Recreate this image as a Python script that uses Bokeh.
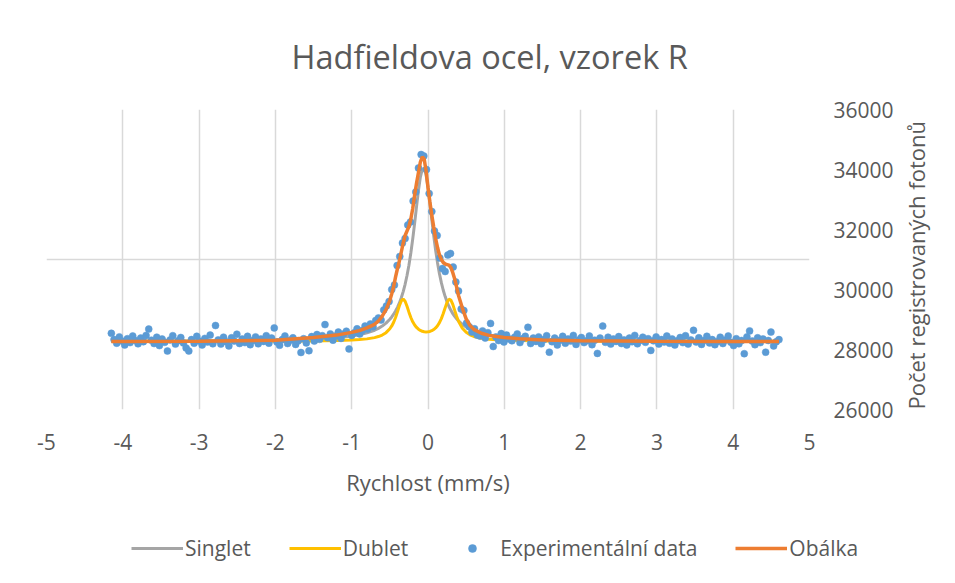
import math
from bokeh.plotting import figure
from bokeh.layouts import column
from bokeh.models import Range1d, FixedTicker, Legend, LegendItem
from bokeh.embed import file_html
from bokeh.resources import INLINE

# ---------------- data ----------------
title_text = "Hadfieldova ocel, vzorek R"
x_title = "Rychlost (mm/s)"
y_title = "Počet registrovaných fotonů"

x_ticks = [-5, -4, -3, -2, -1, 0, 1, 2, 3, 4, 5]
x_tick_labels = ["-5", "-4", "-3", "-2", "-1", "0", "1", "2", "3", "4", "5"]
y_ticks = [26000, 28000, 30000, 32000, 34000, 36000]
y_tick_labels = ["26000", "28000", "30000", "32000", "34000", "36000"]
y_grid_values = [26000, 31000, 36000]

series_names = ["Singlet", "Dublet", "Experimentální data", "Obálka"]

# experimental data: velocity (mm/s)
exp_x = [
    -4.150, -4.115, -4.080, -4.045, -4.010, -3.975, -3.940, -3.905, -3.870, -3.835,
    -3.800, -3.765, -3.730, -3.695, -3.660, -3.625, -3.590, -3.555, -3.520, -3.485,
    -3.450, -3.415, -3.380, -3.345, -3.310, -3.275, -3.240, -3.205, -3.170, -3.135,
    -3.100, -3.065, -3.030, -2.995, -2.960, -2.925, -2.890, -2.855, -2.820, -2.785,
    -2.750, -2.715, -2.680, -2.645, -2.610, -2.575, -2.540, -2.505, -2.470, -2.435,
    -2.400, -2.365, -2.330, -2.295, -2.260, -2.225, -2.190, -2.155, -2.120, -2.085,
    -2.050, -2.015, -1.980, -1.945, -1.910, -1.875, -1.840, -1.805, -1.770, -1.735,
    -1.700, -1.665, -1.630, -1.595, -1.560, -1.525, -1.490, -1.455, -1.420, -1.385,
    -1.350, -1.315, -1.280, -1.245, -1.210, -1.175, -1.140, -1.105, -1.070, -1.035,
    -1.000, -0.965, -0.930, -0.895, -0.860, -0.825, -0.790, -0.755, -0.720, -0.685,
    -0.650, -0.615, -0.580, -0.545, -0.510, -0.475, -0.440, -0.405, -0.370, -0.335,
    -0.300, -0.265, -0.230, -0.195, -0.160, -0.125, -0.090, -0.055, -0.020, 0.015,
    0.050, 0.085, 0.120, 0.155, 0.190, 0.225, 0.260, 0.295, 0.330, 0.365,
    0.400, 0.435, 0.470, 0.505, 0.540, 0.575, 0.610, 0.645, 0.680, 0.715,
    0.750, 0.785, 0.820, 0.855, 0.890, 0.925, 0.960, 0.995, 1.030, 1.065,
    1.100, 1.135, 1.170, 1.205, 1.240, 1.275, 1.310, 1.345, 1.380, 1.415,
    1.450, 1.485, 1.520, 1.555, 1.590, 1.625, 1.660, 1.695, 1.730, 1.765,
    1.800, 1.835, 1.870, 1.905, 1.940, 1.975, 2.010, 2.045, 2.080, 2.115,
    2.150, 2.185, 2.220, 2.255, 2.290, 2.325, 2.360, 2.395, 2.430, 2.465,
    2.500, 2.535, 2.570, 2.605, 2.640, 2.675, 2.710, 2.745, 2.780, 2.815,
    2.850, 2.885, 2.920, 2.955, 2.990, 3.025, 3.060, 3.095, 3.130, 3.165,
    3.200, 3.235, 3.270, 3.305, 3.340, 3.375, 3.410, 3.445, 3.480, 3.515,
    3.550, 3.585, 3.620, 3.655, 3.690, 3.725, 3.760, 3.795, 3.830, 3.865,
    3.900, 3.935, 3.970, 4.005, 4.040, 4.075, 4.110, 4.145, 4.180, 4.215,
    4.250, 4.285, 4.320, 4.355, 4.390, 4.425, 4.460, 4.495, 4.530, 4.565,
    4.600,
]
# experimental data: registered photon counts
exp_y = [
    28540, 28330, 28210, 28420, 28280, 28150, 28360, 28230, 28450, 28300,
    28190, 28380, 28260, 28470, 28680, 28310, 28200, 28410, 28130, 28350,
    28240, 27950, 28320, 28460, 28180, 28290, 28400, 28220, 28050, 27950,
    28330, 28210, 28440, 28280, 28150, 28370, 28250, 28480, 28190, 28800,
    28320, 28180, 28410, 28260, 28120, 28390, 28280, 28510, 28200, 28350,
    28230, 28440, 28160, 28300, 28420, 28190, 28350, 28270, 28460, 28210,
    28380, 28720, 28250, 28140, 28330, 28450, 28200, 28310, 28390, 28170,
    28290, 27900, 28360, 28220, 27960, 28430, 28280, 28500, 28340, 28460,
    28830, 28390, 28520, 28310, 28450, 28580, 28370, 28520, 28610, 28020,
    28470, 28560, 28690, 28520, 28630, 28780, 28680, 28850, 28760, 28970,
    29050, 28980, 29320, 29450, 29600, 30000, 30150, 30800, 31100, 31550,
    31700, 32150, 32250, 32950, 33250, 34050, 34500, 34450, 34000, 33200,
    32600, 31950, 31800, 31050, 30700, 30600, 31150, 31200, 30750, 30250,
    29950, 29350, 29300, 28880, 28760, 28580, 28690, 28480, 28450, 28620,
    28380, 28560, 28870, 28100, 28420, 28300, 28530, 28250, 28480, 28350,
    28290, 28410, 28520, 28230, 28360, 28440, 28740, 28200, 28380, 28270,
    28420, 28190, 28330, 28460, 27910, 28260, 28380, 28150, 28310, 28440,
    28210, 28350, 28280, 28470, 28170, 28320, 28400, 28230, 28290, 28450,
    28160, 28310, 27870, 28380, 28780, 28240, 28410, 28180, 28350, 28270,
    28430, 28200, 28320, 28150, 28380, 28260, 28470, 28190, 28300, 28410,
    28240, 28360, 27970, 28290, 28420, 28180, 28330, 28250, 28450, 28210,
    28350, 28150, 28290, 28400, 28230, 28460, 28180, 28320, 28640, 28250,
    28390, 28170, 28300, 28440, 28220, 28330, 28160, 28270, 28410, 28200,
    28320, 28450, 28240, 28130, 28360, 28190, 28300, 27860, 28420, 28620,
    28280, 28160, 28390, 28230, 28350, 27910, 28300, 28580, 28120, 28260,
    28330,
]

# fitted curves, sampled at these velocities
line_x = [
    -4.15, -3.0, -2.0, -1.5, -1.2, -1.0, -0.9, -0.8, -0.7, -0.65, -0.6, -0.55,
    -0.5, -0.475, -0.45, -0.425, -0.4, -0.375, -0.35, -0.325, -0.3, -0.275,
    -0.25, -0.225, -0.2, -0.175, -0.15, -0.125, -0.1, -0.075, -0.05, -0.025,
    0.0, 0.025, 0.05, 0.075, 0.1, 0.125, 0.15, 0.175, 0.2, 0.225, 0.25, 0.275,
    0.3, 0.325, 0.35, 0.375, 0.4,
    0.45, 0.5, 0.55, 0.6, 0.7, 0.8, 0.9, 1.0, 1.2, 1.5, 2.0, 3.0, 4.0, 4.6,
]
singlet = [
    28280, 28289, 28313, 28348, 28393, 28449, 28493, 28554, 28643, 28704, 28781, 28879,
    29007, 29085, 29176, 29282, 29406, 29552, 29725, 29930, 30174, 30465,
    30811, 31217, 31687, 32213, 32769, 33306, 33749, 34014, 34040, 33819,
    33405, 32880, 32323, 31788, 31306, 30887, 30529, 30228, 29975, 29763, 29584, 29434,
    29305, 29196, 29102, 29022, 28951,
    28837, 28748, 28678, 28622, 28540, 28483, 28442, 28412, 28371, 28336, 28308, 28287, 28280, 28278,
]
dublet = [
    28272, 28274, 28279, 28287, 28299, 28316, 28330, 28354, 28396, 28431, 28482, 28561,
    28691, 28785, 28909, 29066, 29255, 29457, 29622, 29682, 29608, 29440,
    29245, 29067, 28924, 28815, 28734, 28676, 28635, 28607, 28591, 28585,
    28589, 28602, 28627, 28665, 28719, 28794, 28895, 29030, 29200, 29393, 29574, 29676,
    29648, 29503, 29304, 29108, 28943,
    28711, 28574, 28490, 28436, 28375, 28342, 28323, 28311, 28296, 28286, 28279, 28274, 28272, 28272,
]
obalka = [
    28270, 28278, 28310, 28400, 28480, 28570, 28630, 28720, 28840, 28950, 29110, 29330,
    29640, 29860, 30100, 30420, 30700, 30950, 31250, 31550, 31800, 31950,
    32100, 32350, 32700, 33150, 33550, 33900, 34250, 34420, 34350, 33950,
    33400, 32920, 32470, 32080, 31700, 31400, 31150, 31000, 30900, 30850, 30830, 30810,
    30730, 30560, 30350, 30080, 29800,
    29380, 29020, 28800, 28670, 28540, 28470, 28430, 28400, 28360, 28320, 28290, 28272, 28270, 28270,
]

# ---------------- styling ----------------
FONT = "Open Sans"
TXT = "#595959"
GRID = "#d9d9d9"
C_SINGLET = "#a5a5a5"
C_DUBLET = "#ffc000"
C_EXP = "#5b9bd5"
C_OBALKA = "#ed7d31"
MARKER_SIZE = 7
FIG_W = 948


def draw_series(fig):
    rs = fig.line(line_x, singlet, line_color=C_SINGLET, line_width=3)
    rd = fig.line(line_x, dublet, line_color=C_DUBLET, line_width=3)
    re_ = fig.scatter(exp_x, exp_y, size=MARKER_SIZE, fill_color=C_EXP,
                      line_color=C_EXP, line_width=0.5)
    ro = fig.line(line_x, obalka, line_color=C_OBALKA, line_width=3.5)
    return rs, rd, re_, ro


# ---------------- main chart ----------------
p = figure(
    width=FIG_W, height=510,
    output_backend="svg", toolbar_location=None,
    x_range=Range1d(-5, 5), y_range=Range1d(26000, 36000),
    y_axis_location="right",
    title=title_text,
    min_border_left=46, min_border_right=FIG_W - 46 - 765,
    min_border_top=109, min_border_bottom=101,
)
p.outline_line_color = None
p.background_fill_color = "white"
p.border_fill_color = "white"

p.title.align = "left"
p.title.offset = 245
p.title.standoff = 62
p.title.text_font = FONT
p.title.text_font_size = "32.5px"
p.title.text_font_style = "normal"
p.title.text_color = TXT

draw_series(p)

p.xgrid.ticker = FixedTicker(ticks=x_ticks)
p.ygrid.ticker = FixedTicker(ticks=y_grid_values)
for g in (p.xgrid[0], p.ygrid[0]):
    g.grid_line_color = GRID
    g.grid_line_width = 1.5

xaxis = p.xaxis[0]
yaxis = p.yaxis[0]
xaxis.ticker = FixedTicker(ticks=x_ticks)
xaxis.major_label_overrides = {t: s for t, s in zip(x_ticks, x_tick_labels)}
yaxis.ticker = FixedTicker(ticks=y_ticks)
yaxis.major_label_overrides = {t: s for t, s in zip(y_ticks, y_tick_labels)}
for ax in (xaxis, yaxis):
    ax.axis_line_color = None
    ax.major_tick_line_color = None
    ax.minor_tick_line_color = None
    ax.major_tick_out = 0
    ax.major_tick_in = 0
    ax.minor_tick_out = 0
    ax.major_label_text_font = FONT
    ax.major_label_text_font_size = "21px"
    ax.major_label_text_color = TXT
    ax.axis_label_text_font = FONT
    ax.axis_label_text_font_size = "22px"
    ax.axis_label_text_font_style = "normal"
    ax.axis_label_text_color = TXT
xaxis.major_label_standoff = 24
yaxis.major_label_standoff = 24

xaxis.axis_label = x_title
xaxis.axis_label_standoff = 14
yaxis.axis_label = y_title
yaxis.axis_label_standoff = 19
yaxis.axis_label_orientation = math.pi / 2   # reads bottom-to-top
try:
    yaxis.axis_label_align = "start"
except Exception:
    pass

# ---------------- legend strip (below the chart) ----------------
# Same series drawn into a strip whose y range excludes them; only the legend keys show.
pl = figure(
    width=FIG_W, height=57,
    output_backend="svg", toolbar_location=None,
    x_axis_location=None, y_axis_location=None,
    x_range=Range1d(-5, 5), y_range=Range1d(0, 1),
    min_border=0, min_border_left=0, min_border_right=0,
    min_border_top=0, min_border_bottom=0,
)
pl.outline_line_color = None
pl.grid.visible = False
pl.background_fill_color = "white"
pl.border_fill_color = "white"
for fig in (p, pl):
    try:
        fig.frame_align = False
    except Exception:
        pass

k_s, k_d, k_e, k_o = draw_series(pl)

legend = Legend(
    items=[
        LegendItem(label=series_names[0], renderers=[k_s]),
        LegendItem(label=series_names[1], renderers=[k_d]),
        LegendItem(label=series_names[2], renderers=[k_e]),
        LegendItem(label=series_names[3], renderers=[k_o]),
    ],
    orientation="horizontal",
    location=(131, 5),
    border_line_color=None,
    background_fill_alpha=0,
    padding=0, margin=0,
    spacing=38,
    glyph_width=52, glyph_height=20,
    label_standoff=2,
    label_text_font=FONT,
    label_text_font_size="21px",
    label_text_color=TXT,
)
pl.add_layout(legend, "center")

open("out.html", "w").write(file_html(column(p, pl), INLINE))
